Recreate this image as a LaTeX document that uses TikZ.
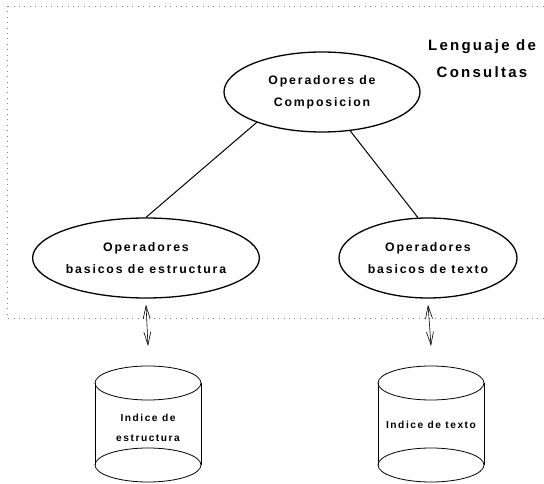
\documentclass[tikz,border=0pt]{standalone}
\usepackage{fontspec}
\setmainfont{Liberation Sans}[LetterSpace=15]
\usetikzlibrary{shapes.geometric,arrows.meta}

\begin{document}
\begin{tikzpicture}[x=1pt,y=-1pt,
  oper/.style={draw,ellipse,line width=1.3pt,minimum width=178pt,minimum height=80pt,
    align=center,inner sep=0pt,font=\fontsize{12.3}{22}\selectfont\bfseries},
  indice/.style={align=center,font=\fontsize{10.2}{20}\selectfont\bfseries},
  flecha/.style={{Straight Barb[length=13pt,width=7pt]}-{Straight Barb[length=13pt,width=7pt]},line width=0.6pt},
  rama/.style={line width=1pt}]
\newcommand\cilindro{
\draw[line width=0.8pt] (0,0) ellipse (53 and 17);
\draw[line width=0.8pt] (-53,0) -- (-53,82) (53,0) -- (53,82);
\draw[line width=0.8pt] (0,82) ellipse (53 and 17);
}
\useasboundingbox (0,0) rectangle (544,484);
\clip (0,0) rectangle (544,484);
% caja del lenguaje
\draw[gray,line width=0.8pt,dash pattern=on 0.8pt off 4.6pt] (7,6) rectangle (560,318);
\node[align=center,font=\fontsize{15}{27}\selectfont\bfseries] (leng) at (482,59) {Lenguaje de\\Consultas};
% operadores
\node[oper,minimum width=196pt] (comp) at (322,92) {Operadores de\\Composicion};
\node[oper] (estr) at (146,258) {Operadores\\basicos de estructura};
\node[oper] (texto) at (428,258) {Operadores\\basicos de texto};
\draw[rama] (comp.205) -- (estr.90);
\draw[rama] (comp.306) -- (texto.104);
% indices
\begin{scope}[shift={(148,383)}]
\cilindro
\end{scope}
\begin{scope}[shift={(431,383)}]
\cilindro
\end{scope}
\coordinate (tope1) at (148,366);
\coordinate (tope2) at (431,366);
\node[indice] (iestr) at (148,428) {Indice de\\estructura};
\node[indice] (itexto) at (431,425) {Indice de texto};
\draw[flecha] ([yshift=-6pt]estr.south) -- ([yshift=20pt]tope1);
\draw[flecha] ([yshift=-6pt]texto.south) -- ([yshift=20pt]tope2);
\end{tikzpicture}
\end{document}
